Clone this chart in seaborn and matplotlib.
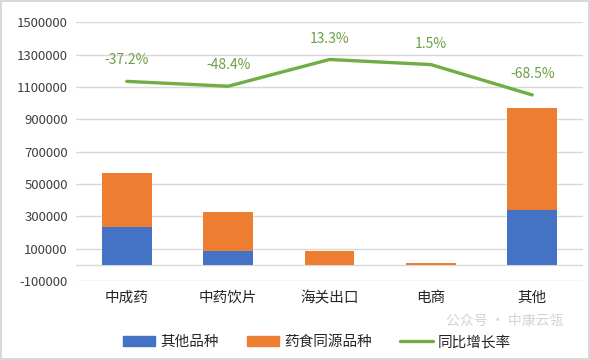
import numpy as np
import pandas as pd
import seaborn as sns
import matplotlib.pyplot as plt
from matplotlib.patches import Patch
from matplotlib.lines import Line2D

categories = ['中成药', '中药饮片', '海关出口', '电商', '其他']
other_kinds = [232000, 85000, 0, 0, 339000]          # 其他品种
food_med = [334000, 240000, 85000, 15000, 629000]    # 药食同源品种
yoy = [-0.372, -0.484, 0.133, 0.015, -0.685]         # 同比增长率
yticks = list(range(-100000, 1500001, 200000))

BLUE = '#4472C4'
ORANGE = '#ED7D31'
GREEN = '#70AD47'

sns.set_theme(style='white')
plt.rcParams['font.family'] = ['Noto Sans CJK SC', 'DejaVu Sans']

df = pd.DataFrame({'cat': categories, 'other': other_kinds, 'food': food_med, 'yoy': yoy})
df['total'] = df['other'] + df['food']

fig = plt.figure(figsize=(5.9, 3.6), dpi=100)
fig.patch.set_edgecolor('#D9D9D9')
fig.patch.set_linewidth(1.5)
ax = fig.add_axes([0.129, 0.219, 0.859, 0.719])

# stacked bars: total in orange, blue bottom drawn over it
sns.barplot(data=df, x='cat', y='total', color=ORANGE, width=0.49, saturation=1,
            linewidth=0, edgecolor='none', ax=ax)
sns.barplot(data=df, x='cat', y='other', color=BLUE, width=0.49, saturation=1,
            linewidth=0, edgecolor='none', ax=ax)

ax.set_ylim(-100000, 1500000)
ax.set_yticks(yticks)
ax.set_yticklabels([str(v) for v in yticks], fontsize=9.5, color='#404040')
ax.yaxis.grid(True, color='#D9D9D9', linewidth=1)
ax.axhline(0, color='#D9D9D9', linewidth=1, zorder=0.5)
ax.set_axisbelow(True)
ax.tick_params(axis='x', labelsize=10.5, colors='#262626', pad=7, length=0)
ax.tick_params(axis='y', pad=6, length=0)
ax.set_xlabel('')
ax.set_ylabel('')
for s in ax.spines.values():
    s.set_visible(False)

# growth rate on a hidden secondary axis
ax2 = ax.twinx()
sns.lineplot(x=np.arange(len(categories)), y=df['yoy'], color=GREEN, linewidth=2.4, ax=ax2)
ax2.set_ylim(-4.98, 0.99)
ax2.set_yticks([])
ax2.set_ylabel('')
for s in ax2.spines.values():
    s.set_visible(False)
for i, v in enumerate(yoy):
    ax2.annotate(f'{v * 100:.1f}%', (i, v), xytext=(0, 10), textcoords='offset points',
                 ha='center', va='bottom', fontsize=10, color='#6E9F45')
ax.set_xlim(-0.5, len(categories) - 0.5)

handles = [Patch(color=BLUE, label='其他品种'),
           Patch(color=ORANGE, label='药食同源品种'),
           Line2D([], [], color=GREEN, linewidth=2.4, label='同比增长率')]
fig.legend(handles=handles, loc='center', bbox_to_anchor=(0.537, 0.05), ncol=3, frameon=False,
           fontsize=10.5, handlelength=2.25, handleheight=0.7, columnspacing=1.9, handletextpad=0.35)

# faint watermark, nudged up so it sits between the axis labels and the legend
fig.text(0.855, 0.108, '公众号 · 中康云瓴', ha='center', va='center', fontsize=10,
         color='#C8C8C8', alpha=0.8)

fig.savefig('out.png', dpi=100)
